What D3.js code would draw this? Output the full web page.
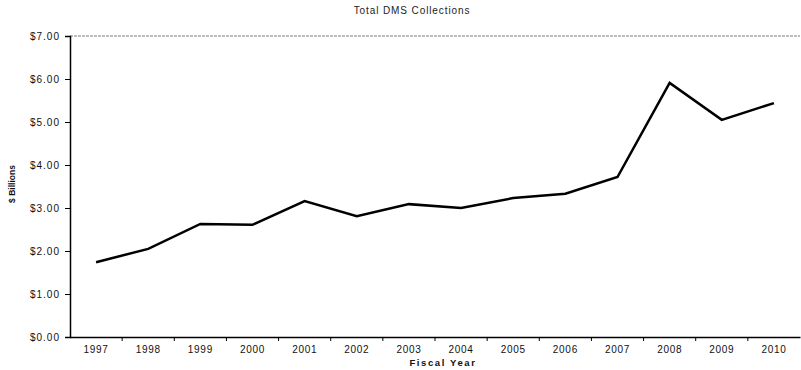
<!DOCTYPE html>
<html>
<head>
<meta charset="utf-8">
<script src="https://cdn.jsdelivr.net/npm/d3@7"></script>
<style>
  body { margin: 0; background: #fff; }
</style>
</head>
<body>
<div id="chart"></div>
<script>
// data
let years = ['1997', '1998', '1999', '2000', '2001', '2002', '2003', '2004', '2005', '2006', '2007', '2008', '2009', '2010'];
let collections = [1.74, 2.05, 2.63, 2.61, 3.16, 2.81, 3.09, 3.00, 3.23, 3.33, 3.72, 5.91, 5.05, 5.44];
let yTicks = [0, 1, 2, 3, 4, 5, 6, 7];

let width = 801;
let height = 370;
let margin = { top: 36, right: 1, bottom: 33, left: 70 };

let data = years.map((y, i) => ({ year: y, value: collections[i] }));

let x = d3.scaleBand()
  .domain(years)
  .range([margin.left, width - margin.right]);

let y = d3.scaleLinear()
  .domain([0, 7])
  .range([height - margin.bottom, margin.top]);

const svg = d3.select('#chart').append('svg')
  .attr('width', width)
  .attr('height', height)
  .attr('font-family', 'Arial, "Liberation Sans", sans-serif');

// top border, dotted
svg.append('line')
  .attr('x1', margin.left).attr('x2', width - margin.right)
  .attr('y1', y(7)).attr('y2', y(7))
  .attr('stroke', '#555')
  .attr('stroke-width', 0.8)
  .attr('stroke-dasharray', '3,1');

// x axis: ticks between categories
let xAxis = g => g
  .attr('transform', `translate(0, ${y(0)})`)
  .call(d3.axisBottom(x).tickSize(0).tickPadding(9))
  .call(g => g.attr('font-family', null))
  .call(g => g.select('.domain').attr('stroke', '#000').attr('stroke-width', 1.5))
  .call(g => g.selectAll('.tick text').attr('font-size', 10).attr('letter-spacing', 0.7).attr('fill', '#111'))
  .call(g => g.selectAll('.sep').data(years.slice(1)).join('line')
    .attr('class', 'sep')
    .attr('x1', d => x(d)).attr('x2', d => x(d))
    .attr('y1', 0).attr('y2', 4)
    .attr('stroke', '#000'));

// y axis
let yAxis = g => g
  .attr('transform', `translate(${margin.left}, 0)`)
  .call(d3.axisLeft(y).tickValues(yTicks).tickSize(5).tickPadding(5).tickFormat(d => '$' + d3.format('.2f')(d)))
  .call(g => g.attr('font-family', null))
  .call(g => g.select('.domain').attr('stroke', '#000').attr('stroke-width', 1.5))
  .call(g => g.selectAll('.tick text').attr('font-size', 10).attr('letter-spacing', 1).attr('fill', '#111'));

svg.append('g').call(xAxis);
svg.append('g').call(yAxis);

let line = d3.line()
  .x(d => x(d.year) + x.bandwidth() / 2)
  .y(d => y(d.value));

svg.append('path')
  .datum(data)
  .attr('fill', 'none')
  .attr('stroke', '#000')
  .attr('stroke-width', 2.5)
  .attr('stroke-linejoin', 'miter')
  .attr('d', line);

// titles
svg.append('text')
  .attr('x', 412).attr('y', 14)
  .attr('text-anchor', 'middle')
  .attr('font-size', 10)
  .attr('letter-spacing', 0.9)
  .attr('fill', '#222')
  .text('Total DMS Collections');

svg.append('text')
  .attr('x', 443).attr('y', 366)
  .attr('text-anchor', 'middle')
  .attr('font-size', 9.5)
  .attr('font-weight', 'bold')
  .attr('letter-spacing', 1.6)
  .attr('fill', '#111')
  .text('Fiscal Year');

svg.append('text')
  .attr('transform', `translate(15, 184) rotate(-90)`)
  .attr('text-anchor', 'middle')
  .attr('font-size', 8.5)
  .attr('font-weight', 'bold')
  .attr('fill', '#111')
  .text('$ Billions');
</script>
</body>
</html>
